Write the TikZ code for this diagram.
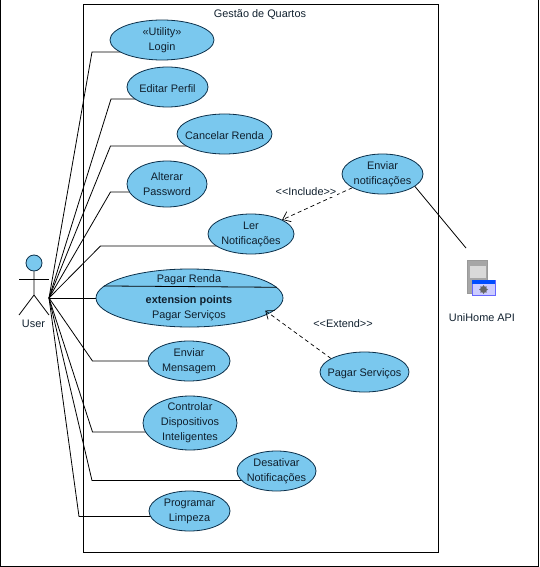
\documentclass[tikz,border=0pt]{standalone}
\usepackage{fontspec}
\setmainfont{Liberation Sans}
\usetikzlibrary{arrows.meta,shapes.geometric,backgrounds}
\definecolor{ucfill}{HTML}{7AC8EE}
\definecolor{ucdraw}{HTML}{0B2F4A}
\definecolor{uctext}{HTML}{10202E}

\begin{document}
\begin{tikzpicture}[
  x=1pt,y=-1pt,
  usecase/.style={ellipse,draw=ucdraw,fill=ucfill,line width=0.8pt,inner xsep=-12pt,inner ysep=-8pt,
                  text=uctext,align=center,font=\fontsize{10.9}{15}\selectfont,
                  execute at begin node=\rule{0pt}{11.5pt}},
  lbl/.style={inner sep=1pt,text=uctext,align=center,font=\fontsize{10.9}{15}\selectfont},
  assoc/.style={black,line width=0.8pt},
  dep/.style={-{Straight Barb[length=7pt,width=11pt]},black,line width=0.7pt,dash pattern=on 4pt off 3pt},
]
\useasboundingbox (0,0) rectangle (539,567);

\draw[line width=1pt] (0.5,0) -- (0.5,566) -- (538,566) -- (538,0);
\node[draw,line width=1pt,minimum width=355pt,minimum height=547pt,inner sep=0pt] (room) at (260.5,278.5) {};
\node[lbl] (roomtitle) at (260,14.5) {Gestão de Quartos};

\node[usecase,minimum width=104pt,minimum height=40pt] (login) at (162,40) {«Utility»\\Login};
\node[usecase,minimum width=81pt,minimum height=40pt] (perfil) at (167.5,87) {Editar Perfil};
\node[usecase,minimum width=95pt,minimum height=40pt] (cancelar) at (224.5,134) {Cancelar Renda};
\node[usecase,minimum width=80pt,minimum height=46pt] (password) at (167,184) {Alterar\\Password};
\node[usecase,minimum width=86pt,minimum height=40pt] (ler) at (251,234) {Ler\\Notificações};
\node[usecase,minimum width=187pt,minimum height=58pt] (pagar) at (189.5,298) {};
\node[lbl] (pagarname) at (189,279.5) {Pagar Renda};
\node[lbl,font=\fontsize{10.9}{15}\selectfont\bfseries] (pagarext) at (189,300.5) {extension points};
\node[lbl] (pagarpoint) at (189,315.5) {Pagar Serviços};
\node[usecase,minimum width=82pt,minimum height=40pt] (mensagem) at (189,361) {Enviar\\Mensagem};
\node[usecase,minimum width=94pt,minimum height=54pt] (controlar) at (190,423) {Controlar\\Dispositivos\\Inteligentes};
\node[usecase,minimum width=79pt,minimum height=40pt] (desativar) at (276.5,471) {Desativar\\Notificações};
\node[usecase,minimum width=81pt,minimum height=40pt] (limpeza) at (189.5,511) {Programar\\Limpeza};
\node[usecase,minimum width=81pt,minimum height=40pt] (enviar) at (382.5,174) {Enviar\\notificações};
\node[usecase,minimum width=89pt,minimum height=40pt] (servicos) at (364.5,372) {Pagar Serviços};

% actor
\node[circle,draw=ucdraw,fill=ucfill,line width=0.8pt,minimum size=16pt,inner sep=0pt] (head) at (34,263) {};
\coordinate (hip) at (34,295);
\coordinate (hand) at (49,298);
\draw[assoc] (head) -- (hip) -- (19,315);
\draw[assoc] (hip) -- (49,315);
\draw[assoc] (19,279) -- (49,279);

\coordinate (bendlogin) at (92,52);
\coordinate (bendperfil) at (111,99);
\coordinate (bendcancelar) at (110.5,146);
\coordinate (bendpassword) at (110.5,192);
\coordinate (bendler) at (100.5,246);
\coordinate (bendmensagem) at (92.5,361);
\coordinate (bendcontrolar) at (92.5,432);
\coordinate (benddesativar) at (92,480.5);
\coordinate (bendlimpeza) at (79,516.5);

\begin{scope}[on background layer]
\draw[assoc] (hand) -- (bendlogin) -- (bendlogin -| login);
\draw[assoc] (hand) -- (bendperfil) -- (bendperfil -| perfil);
\draw[assoc] (hand) -- (bendcancelar) -- (bendcancelar -| cancelar);
\draw[assoc] (hand) -- (bendpassword) -- (bendpassword -| password);
\draw[assoc] (hand) -- (bendler) -- (bendler -| ler);
\draw[assoc] (hand) -- (hand -| pagar);
\draw[assoc] (hand) -- (bendmensagem) -- (bendmensagem -| mensagem);
\draw[assoc] (hand) -- (bendcontrolar) -- (bendcontrolar -| controlar);
\draw[assoc] (hand) -- (benddesativar) -- (benddesativar -| desativar);
\draw[assoc] (hand) -- (bendlimpeza) -- (bendlimpeza -| limpeza);
\end{scope}
\node[lbl,fill=white,inner xsep=2pt,inner ysep=0pt] (user) at (33.5,324) {User};

\draw[assoc] (pagar.172.75) -- (pagar.7.25);

\draw[dep] (enviar) -- (ler);
\node[lbl,fill=white,inner sep=1pt] (include) at (306,192) {<{}<Include>{}>};
\draw[dep,shorten >=-5pt] (servicos.158) -- (pagar.-11);
\node[lbl] (extend) at (343,324) {<{}<Extend>{}>};

% server icon
\coordinate (apitop) at (466,248);
\draw[assoc] (enviar.-21) -- (apitop);
\node[draw=gray!80,fill=gray!70,minimum width=20pt,minimum height=33pt,inner sep=0pt] (server) at (477.5,276.5) {};
\node[fill=gray!30,minimum width=16pt,minimum height=12pt,inner sep=0pt] (serverbay) at (477.5,272) {};
\node[draw=blue!60,fill=white!80!blue,minimum width=23pt,minimum height=15pt,inner sep=0pt] (window) at (483.5,287.5) {};
\node[fill=blue!70!cyan,minimum width=23pt,minimum height=4pt,inner sep=0pt,anchor=north] (windowbar) at (window.north) {};
\node[star,star points=8,fill=black!60,minimum size=9pt,inner sep=0pt] (gear) at (483.5,289.5) {};
\node[lbl] (api) at (482,317.5) {UniHome API};
\end{tikzpicture}
\end{document}
